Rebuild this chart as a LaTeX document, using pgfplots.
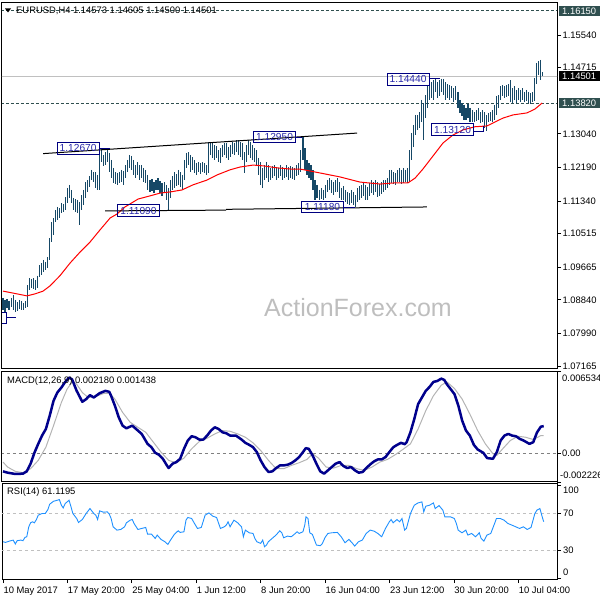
\documentclass[border=0pt]{standalone}
\usepackage{pgfplots}
\usepackage{pgfplotstable}
\pgfplotsset{compat=1.18}
\usepackage{fontspec}
\setmainfont{Liberation Sans}
\definecolor{barcol}{RGB}{22,72,102}
\definecolor{macdcol}{RGB}{0,0,140}
\definecolor{sigcol}{RGB}{180,180,180}
\definecolor{rsicol}{RGB}{30,144,255}
\definecolor{lvl}{RGB}{192,192,192}
\definecolor{dsg}{RGB}{47,79,79}
\definecolor{lblbox}{RGB}{0,0,128}
\definecolor{lbltxt}{RGB}{40,40,170}
\definecolor{wm}{RGB}{190,190,190}
\newcommand{\tf}{\fontsize{9.4}{11}\selectfont}
\newcommand{\lf}{\fontsize{10.2}{12}\selectfont}
\begin{document}
\pgfplotstableread{
i h l
0 1.0889 1.0858
1 1.0884 1.0853
2 1.0886 1.0863
3 1.0881 1.0858
4 1.0889 1.0866
5 1.0896 1.0858
6 1.0884 1.0853
7 1.0878 1.0856
8 1.0884 1.0861
9 1.0881 1.0858
10 1.0876 1.0858
11 1.0881 1.0863
12 1.0921 1.0866
13 1.0939 1.0909
14 1.0937 1.0914
15 1.0939 1.0911
16 1.0934 1.0909
17 1.0945 1.0914
18 1.0972 1.0942
19 1.0977 1.0947
20 1.0985 1.0954
21 1.0980 1.0959
22 1.0992 1.0965
23 1.1040 1.0985
24 1.1081 1.1030
25 1.1091 1.1048
26 1.1111 1.1081
27 1.1119 1.1086
28 1.1116 1.1091
29 1.1129 1.1104
30 1.1126 1.1106
31 1.1144 1.1111
32 1.1167 1.1129
33 1.1175 1.1142
34 1.1162 1.1129
35 1.1142 1.1111
36 1.1139 1.1106
37 1.1137 1.1104
38 1.1132 1.1073
39 1.1149 1.1111
40 1.1162 1.1124
41 1.1182 1.1142
42 1.1187 1.1157
43 1.1197 1.1170
44 1.1213 1.1187
45 1.1207 1.1182
46 1.1207 1.1167
47 1.1200 1.1162
48 1.1267 1.1162
49 1.1266 1.1233
50 1.1251 1.1223
51 1.1258 1.1225
52 1.1263 1.1233
53 1.1256 1.1207
54 1.1238 1.1192
55 1.1218 1.1180
56 1.1207 1.1177
57 1.1205 1.1175
58 1.1207 1.1180
59 1.1213 1.1182
60 1.1210 1.1175
61 1.1225 1.1192
62 1.1238 1.1207
63 1.1251 1.1218
64 1.1248 1.1213
65 1.1238 1.1200
66 1.1225 1.1192
67 1.1233 1.1200
68 1.1225 1.1187
69 1.1225 1.1192
70 1.1218 1.1182
71 1.1213 1.1180
72 1.1200 1.1162
73 1.1187 1.1157
74 1.1190 1.1159
75 1.1182 1.1154
76 1.1187 1.1162
77 1.1192 1.1162
78 1.1185 1.1154
79 1.1180 1.1147
80 1.1182 1.1157
81 1.1175 1.1137
82 1.1167 1.1109
83 1.1187 1.1142
84 1.1197 1.1162
85 1.1207 1.1167
86 1.1202 1.1172
87 1.1213 1.1175
88 1.1207 1.1170
89 1.1200 1.1162
90 1.1238 1.1187
91 1.1256 1.1218
92 1.1258 1.1225
93 1.1251 1.1207
94 1.1245 1.1213
95 1.1238 1.1205
96 1.1230 1.1200
97 1.1233 1.1207
98 1.1230 1.1202
99 1.1233 1.1207
100 1.1230 1.1205
101 1.1225 1.1200
102 1.1283 1.1205
103 1.1283 1.1251
104 1.1281 1.1243
105 1.1276 1.1238
106 1.1273 1.1243
107 1.1263 1.1233
108 1.1268 1.1230
109 1.1276 1.1245
110 1.1281 1.1251
111 1.1281 1.1243
112 1.1271 1.1238
113 1.1276 1.1245
114 1.1283 1.1253
115 1.1281 1.1251
116 1.1288 1.1258
117 1.1288 1.1251
118 1.1283 1.1245
119 1.1281 1.1238
120 1.1258 1.1205
121 1.1276 1.1233
122 1.1288 1.1251
123 1.1283 1.1243
124 1.1276 1.1238
125 1.1268 1.1233
126 1.1263 1.1225
127 1.1243 1.1200
128 1.1233 1.1175
129 1.1218 1.1167
130 1.1225 1.1187
131 1.1233 1.1192
132 1.1225 1.1182
133 1.1218 1.1187
134 1.1223 1.1192
135 1.1225 1.1197
136 1.1220 1.1187
137 1.1218 1.1192
138 1.1225 1.1197
139 1.1220 1.1187
140 1.1218 1.1192
141 1.1225 1.1195
142 1.1220 1.1187
143 1.1223 1.1192
144 1.1220 1.1190
145 1.1218 1.1187
146 1.1225 1.1197
147 1.1230 1.1200
148 1.1263 1.1207
149 1.1295 1.1238
150 1.1268 1.1213
151 1.1238 1.1200
152 1.1230 1.1192
153 1.1225 1.1187
154 1.1213 1.1162
155 1.1187 1.1137
156 1.1175 1.1142
157 1.1162 1.1137
158 1.1167 1.1139
159 1.1162 1.1137
160 1.1175 1.1142
161 1.1187 1.1157
162 1.1192 1.1162
163 1.1187 1.1154
164 1.1182 1.1149
165 1.1187 1.1157
166 1.1192 1.1157
167 1.1182 1.1142
168 1.1167 1.1137
169 1.1172 1.1137
170 1.1162 1.1132
171 1.1157 1.1126
172 1.1154 1.1124
173 1.1162 1.1129
174 1.1157 1.1124
175 1.1149 1.1118
176 1.1167 1.1132
177 1.1172 1.1137
178 1.1175 1.1142
179 1.1180 1.1147
180 1.1175 1.1137
181 1.1170 1.1137
182 1.1180 1.1147
183 1.1187 1.1154
184 1.1182 1.1149
185 1.1187 1.1157
186 1.1182 1.1144
187 1.1177 1.1147
188 1.1182 1.1152
189 1.1187 1.1157
190 1.1187 1.1162
191 1.1192 1.1167
192 1.1213 1.1175
193 1.1213 1.1180
194 1.1207 1.1177
195 1.1205 1.1175
196 1.1213 1.1182
197 1.1218 1.1182
198 1.1213 1.1177
199 1.1218 1.1180
200 1.1213 1.1182
201 1.1218 1.1180
202 1.1263 1.1182
203 1.1306 1.1238
204 1.1327 1.1271
205 1.1352 1.1301
206 1.1352 1.1314
207 1.1359 1.1319
208 1.1390 1.1334
209 1.1382 1.1288
210 1.1402 1.1344
211 1.1428 1.1370
212 1.1435 1.1390
213 1.1435 1.1395
214 1.1440 1.1390
215 1.1444 1.1410
216 1.1435 1.1395
217 1.1440 1.1400
218 1.1444 1.1410
219 1.1443 1.1402
220 1.1435 1.1390
221 1.1430 1.1395
222 1.1428 1.1390
223 1.1425 1.1395
224 1.1420 1.1385
225 1.1425 1.1390
226 1.1410 1.1370
227 1.1390 1.1357
228 1.1382 1.1349
229 1.1377 1.1339
230 1.1370 1.1339
231 1.1380 1.1344
232 1.1370 1.1334
233 1.1364 1.1334
234 1.1359 1.1334
235 1.1364 1.1337
236 1.1370 1.1339
237 1.1359 1.1332
238 1.1364 1.1334
239 1.1359 1.1319
240 1.1352 1.1312
241 1.1357 1.1334
242 1.1359 1.1337
243 1.1364 1.1334
244 1.1377 1.1339
245 1.1400 1.1352
246 1.1402 1.1370
247 1.1425 1.1390
248 1.1428 1.1400
249 1.1425 1.1395
250 1.1428 1.1397
251 1.1430 1.1400
252 1.1440 1.1385
253 1.1420 1.1382
254 1.1425 1.1390
255 1.1415 1.1382
256 1.1420 1.1390
257 1.1415 1.1385
258 1.1420 1.1390
259 1.1410 1.1385
260 1.1415 1.1387
261 1.1410 1.1382
262 1.1407 1.1380
263 1.1410 1.1385
264 1.1445 1.1387
265 1.1483 1.1430
266 1.1488 1.1453
267 1.1491 1.1440
268 1.14605 1.14500
}\bars
\begin{tikzpicture}
\useasboundingbox (0,0) rectangle (600pt,600pt);
\node[text=wm, font=\fontsize{25}{25}\selectfont, anchor=center] at (358pt,292pt) {ActionForex.com};

% ---------------- main price panel ----------------
\begin{axis}[
  at={(2pt,231pt)}, anchor=south west, scale only axis,
  width=555pt, height=367pt,
  xmin=-0.5, xmax=275.2, ymin=1.07089, ymax=1.16377,
  axis line style={line width=1pt, black},
  xtick=\empty,
  ytick={1.15540,1.14715,1.13040,1.12190,1.11340,1.10515,1.09665,1.08840,1.07990,1.07165},
  yticklabels={1.15540,1.14715,1.13040,1.12190,1.11340,1.10515,1.09665,1.08840,1.07990,1.07165},
  ytick pos=right, yticklabel pos=right,
  tick align=outside, major tick length=4pt,
  tick style={line width=0.8pt, black},
  yticklabel style={font=\tf, text=black, anchor=west, xshift=-2pt},
  scaled y ticks=false,
  clip mode=individual,
]
\addplot[dsg, line width=1pt, dash pattern=on 3pt off 2pt] coordinates {(-1,1.16150) (276,1.16150)};
\addplot[dsg, line width=1pt, dash pattern=on 3pt off 2pt] coordinates {(-1,1.13820) (276,1.13820)};
\addplot[lvl, line width=1pt] coordinates {(-1,1.14501) (276,1.14501)};
\addplot[draw=none, no marks,
  error bars/.cd, y dir=minus, y explicit, error mark=none,
  error bar style={draw=barcol, solid, line width=1.1pt}]
  table[x=i, y=h, y error minus expr=\thisrow{h}-\thisrow{l}] {\bars};
\addplot[red, line width=1pt] coordinates {
(0,1.0906) (5.0,1.0901) (11.9,1.0894) (15.9,1.0899) (19.9,1.0906) (23.3,1.0919)
(28.3,1.0945) (33.3,1.0977) (38.3,1.1005) (43.2,1.1030) (48.2,1.1061) (53.2,1.1091)
(56.6,1.1101) (60.6,1.1119) (67.1,1.1139) (73.0,1.1147) (78.0,1.1154) (83.0,1.1157)
(88.9,1.1162) (94.4,1.1175) (101.3,1.1187) (106.3,1.1200) (112.8,1.1213) (117.7,1.1220)
(124.2,1.1225) (129.2,1.1223) (136.1,1.1218) (142.6,1.1215) (147.5,1.1215) (157.5,1.1205)
(167.4,1.1195) (177.3,1.1182) (187.3,1.1177) (194.7,1.1180) (201.2,1.1180) (204.7,1.1192)
(208.6,1.1215) (213.6,1.1248) (218.6,1.1281) (223.5,1.1301) (228.5,1.1314) (234.5,1.1322)
(240.4,1.1324) (244.4,1.1334) (248.4,1.1344) (253.4,1.1352) (260.3,1.1357) (264.3,1.1367)
(267.8,1.1382)};
% trend lines
\addplot[black, line width=1pt] coordinates {(19.9,1.1254) (175.9,1.1306)};
\addplot[black, line width=1pt] coordinates {(50.7,1.1109) (110.8,1.1111)};
\addplot[black, line width=1pt] coordinates {(110.8,1.1113) (210.6,1.1119)};
% price label connectors
\addplot[lblbox, line width=1pt] coordinates {(47.7,1.1268) (53.2,1.1268)};
\addplot[lblbox, line width=1pt] coordinates {(145.6,1.1296) (148.6,1.1296)};
\addplot[lblbox, line width=1pt] coordinates {(168.9,1.1118) (174.9,1.1118)};
\addplot[lblbox, line width=1pt] coordinates {(211.6,1.1443) (217.1,1.1443)};
\addplot[lblbox, line width=1pt] coordinates {(233.5,1.1311) (238.5,1.1311) (238.5,1.1324)};
\addplot[lblbox, line width=1pt] coordinates {(1.5,1.0840) (6.5,1.0840)};
\addplot[lblbox, line width=1pt] coordinates {(-0.5,1.0853) (1.5,1.0853) (1.5,1.0825) (-0.5,1.0825)};
\tikzset{pl/.style={draw=lblbox, text=lbltxt, font=\lf, line width=1pt, inner xsep=2pt, inner ysep=2.3pt, text height=7.3pt, text depth=0pt, minimum width=42pt}}
\node[pl] at (axis cs:37.3,1.1268) {1.12670};
\node[pl] at (axis cs:67.3,1.1110) {1.11090};
\node[pl] at (axis cs:134.9,1.1296) {1.12950};
\node[pl] at (axis cs:158.7,1.1119) {1.11180};
\node[pl] at (axis cs:201.2,1.1442) {1.14440};
\node[pl] at (axis cs:223.3,1.1314) {1.13120};
\tikzset{hl/.style={anchor=west, font=\tf, text=white, inner xsep=1.5pt, inner ysep=1pt, text height=7pt, text depth=0.5pt, minimum width=41pt, xshift=1.5pt}}
\node[hl, fill=dsg] at (axis cs:275.2,1.16150) {1.16150};
\node[hl, fill=black] at (axis cs:275.2,1.14501) {1.14501};
\node[hl, fill=dsg] at (axis cs:275.2,1.13820) {1.13820};
\end{axis}

% ---------------- MACD panel ----------------
\begin{axis}[
  at={(2pt,118pt)}, anchor=south west, scale only axis,
  width=555pt, height=111pt,
  xmin=-0.5, xmax=275.2, ymin=-0.002226, ymax=0.006534,
  axis line style={line width=1pt, black},
  xtick=\empty,
  ytick={-0.002226,0,0.006534}, yticklabels={,,},
  ytick pos=right, tick align=outside, major tick length=4pt,
  tick style={line width=0.8pt, black},
  scaled y ticks=false,
  clip mode=individual,
]
\addplot[gray, line width=0.8pt, dash pattern=on 3pt off 3pt] coordinates {(-1,0) (276,0)};
\addplot[sigcol, line width=1pt] coordinates {
(0,-0.000654) (2.3,-0.001046) (6.1,-0.001385) (9.9,-0.00149) (13.7,-0.001176) (17.5,-0.000523)
(21.3,0.000523) (25.1,0.002222) (29.0,0.004052) (31.8,0.005097) (34.7,0.005751) (36.6,0.005489)
(39.4,0.004836) (42.3,0.004444) (46.1,0.004522) (49.9,0.004757) (52.8,0.004784) (55.6,0.004313)
(59.4,0.003268) (63.2,0.002483) (67.0,0.002091) (70.9,0.001699) (74.7,0.000915) (78.5,0.000131)
(82.3,-0.000523) (86.1,-0.000706) (89.9,-0.00034) (93.7,0.000392) (97.5,0.000967) (101.4,0.001228)
(105.2,0.001568) (109.0,0.00183) (112.8,0.001778) (116.6,0.001568) (120.4,0.001307) (124.2,0.000863)
(128.0,0.000261) (131.9,-0.000523) (135.7,-0.001176) (139.5,-0.001176) (143.3,-0.000915) (147.1,-0.000706)
(151.0,-0.000444) (153.8,0) (156.7,-0.00034) (160.5,-0.001046) (164.3,-0.001124) (168.1,-0.000915)
(171.9,-0.000915) (175.7,-0.001176) (179.5,-0.001307) (183.3,-0.001046) (187.2,-0.000654) (191.0,-0.000444)
(194.8,-0.000078) (198.6,0.00034) (202.4,0.000784) (206.2,0.00196) (210.0,0.003398) (213.8,0.004575)
(217.7,0.005411) (220.5,0.005672) (224.3,0.005149) (228.1,0.004313) (231.9,0.003137) (235.8,0.00183)
(239.6,0.000784) (243.4,0) (245.3,-0.000131) (248.2,0.000392) (252.0,0.001046) (255.8,0.001385)
(259.6,0.001307) (263.4,0.001124) (267.2,0.001438) (268.6,0.001438)};
\addplot[macdcol, line width=2.5pt, line join=round] coordinates {
(0,-0.001385) (2.3,-0.00149) (6.1,-0.001594) (9.9,-0.001568) (11.8,-0.001385) (13.7,-0.000784)
(15.6,0.000078) (17.5,0.000784) (19.4,0.001438) (21.3,0.00196) (23.2,0.003006) (25.1,0.004182)
(27.0,0.004836) (29.0,0.005228) (30.9,0.005672) (32.8,0.006012) (34.3,0.005882) (36.6,0.004967)
(39.4,0.004104) (41.3,0.004313) (43.2,0.004627) (45.1,0.004444) (48.0,0.004784) (50.9,0.004967)
(52.8,0.004888) (53.7,0.004575) (55.6,0.00379) (57.5,0.002875) (59.4,0.002222) (61.3,0.002013)
(64.2,0.002222) (66.1,0.00196) (68.9,0.001568) (71.8,0.000784) (73.7,0.000523) (75.6,0.000078)
(77.5,-0.000078) (79.4,-0.000392) (81.4,-0.000915) (82.3,-0.001124) (84.2,-0.000784) (86.1,-0.000654)
(88.0,-0.000392) (89.9,0.000392) (91.8,0.001046) (93.7,0.001385) (95.6,0.001307) (97.5,0.001124)
(99.5,0.001124) (101.4,0.001438) (103.3,0.00183) (105.2,0.002091) (107.1,0.00196) (109.0,0.001699)
(110.9,0.001621) (112.8,0.001438) (115.7,0.001438) (118.5,0.001124) (120.4,0.000863) (122.3,0.000706)
(124.2,0.000523) (126.1,0.000131) (128.0,-0.000523) (129.9,-0.001046) (131.9,-0.001438) (133.8,-0.001385)
(135.7,-0.001124) (137.6,-0.000915) (139.5,-0.000915) (141.4,-0.000863) (143.3,-0.000732) (145.2,-0.000523)
(147.1,-0.000261) (149.0,0.000131) (150.4,0.000444) (151.9,0.000392) (153.8,-0.000131) (155.7,-0.000784)
(157.6,-0.001385) (159.5,-0.001568) (161.4,-0.001307) (163.3,-0.001046) (165.2,-0.000784) (167.2,-0.000654)
(169.1,-0.000967) (171.0,-0.001124) (172.9,-0.001046) (174.8,-0.001307) (176.7,-0.00149) (178.6,-0.001438)
(180.5,-0.001124) (182.4,-0.000836) (184.3,-0.000601) (186.2,-0.000444) (188.1,-0.000444) (190.0,-0.000261)
(191.9,0.000131) (193.9,0.000523) (195.8,0.000706) (197.7,0.000863) (199.6,0.000758) (200.5,0.000915)
(202.4,0.001699) (204.3,0.002745) (206.2,0.003921) (208.1,0.004444) (210.0,0.004967) (211.9,0.00528)
(213.8,0.005672) (215.8,0.005751) (217.7,0.005934) (219.2,0.005829) (220.5,0.005489) (222.4,0.005097)
(224.3,0.004705) (226.2,0.00379) (228.1,0.002614) (230.0,0.00183) (231.9,0.001438) (233.9,0.000706)
(235.8,0.00034) (238.6,0.000078) (240.5,-0.00034) (243.4,-0.000392) (245.3,0.000131) (247.2,0.001046)
(249.1,0.001438) (251.0,0.001568) (252.9,0.001438) (254.8,0.001385) (256.7,0.001176) (258.6,0.001046)
(261.5,0.000784) (263.4,0.000915) (265.3,0.001699) (267.2,0.002143) (268.6,0.00218)};
\end{axis}

% ---------------- RSI panel ----------------
\begin{axis}[
  at={(2pt,21pt)}, anchor=south west, scale only axis,
  width=555pt, height=95pt,
  xmin=-0.5, xmax=275.2, ymin=-1, ymax=102,
  axis line style={line width=1pt, black},
  xtick={0,32,64,96,128,160,192,224,256},
  xticklabels={10 May 2017,17 May 20:00,25 May 04:00,1 Jun 12:00,8 Jun 20:00,16 Jun 04:00,23 Jun 12:00,30 Jun 20:00,10 Jul 04:00},
  xtick pos=bottom,
  xticklabel style={font=\tf, text=black, anchor=north west, xshift=-3pt, yshift=0pt},
  ytick={0,30,70,100}, yticklabels={,,,},
  ytick pos=right, tick align=outside, major tick length=4pt,
  tick style={line width=0.8pt, black},
  clip mode=individual,
]
\addplot[lvl, line width=1pt, dash pattern=on 3pt off 3pt] coordinates {(-1,70) (276,70)};
\addplot[lvl, line width=1pt, dash pattern=on 3pt off 3pt] coordinates {(-1,30) (276,30)};
\addplot[rsicol, line width=0.9pt] coordinates {
(0,39.4) (1.3,38.7) (3.2,40.1) (5.1,41.2) (6.1,36.9) (7.0,40.5) (8.9,41.2) (9.9,40.5) (10.9,44.1)
(11.8,44.8) (12.8,55.6) (13.7,59.9) (14.7,61) (15.6,59.9) (16.6,63.5) (17.5,68.2) (19.4,70) (21,70)
(22.3,74.3) (23.2,80.1) (25.1,83.3) (27.0,84.4) (28.0,85.1) (29.0,79) (29.9,76.1) (30.9,80.8)
(32.8,84.4) (33.7,77.9) (34.7,70) (36.6,64.6) (37.5,60.3) (39.4,63.5) (41.3,70) (43.2,75.4)
(45.1,70) (46.1,68.2) (47.0,63.5) (48.0,72.9) (49.9,71.4) (51.8,71.8) (52.8,69.3) (53.7,64.6)
(54.7,55.6) (56.6,52) (58.5,52.7) (60.4,55.6) (61.3,59.9) (63.2,62.8) (64.2,63.5) (65.1,59.2)
(67.0,52.7) (68.9,53.8) (70.9,54.9) (71.8,47.7) (73.7,47.7) (75.6,43) (76.6,46.6) (78.5,41.9)
(80.4,39.4) (81.9,36.5) (83.2,41.2) (85.1,47.3) (87.0,51.3) (88.0,49.5) (89.9,50.2) (90.9,62.8)
(91.8,65.7) (93.7,64.6) (95.6,57.4) (96.6,53.8) (98.5,54.9) (100.4,68.2) (102.3,70.7) (104.2,67.1)
(106.1,65.7) (108.0,53.8) (109.9,55.6) (110.9,57.4) (111.8,61) (112.8,55.6) (114.7,62.8) (116.6,59.9)
(118.5,55.6) (119.4,44.8) (120.4,52) (122.3,49.1) (124.2,48.4) (125.1,43) (126.1,39.4) (128.0,37.6)
(129.0,41.2) (129.9,34) (130.9,35.8) (131.8,39.4) (133.7,43) (135.6,46.6) (137.5,51.3) (138.5,49.1)
(139.4,43.7) (141.3,45.5) (143.2,44.8) (145.2,48.4) (146.1,50.2) (147.1,48.4) (149.0,50.2) (149.9,57.4)
(150.5,66.4) (151.5,64.6) (152.4,49.1) (153.7,47.3) (155.7,35.8) (157.6,35.1) (158.5,36.9) (160.0,44.1)
(161.4,48.4) (163.3,49.1) (166.1,49.5) (168.0,44.8) (169.9,38.3) (171.8,41.9) (173.4,38.3) (174.7,34.7)
(176.6,39.4) (178.5,41.2) (180.4,48.4) (182.4,52) (184.3,50.9) (186.2,48.4) (188.1,44.8) (190.0,53.8)
(191.9,61) (192.8,63.5) (193.8,59.9) (195.7,63.5) (197.0,61) (198.2,64.6) (199.5,52) (200.4,53.8)
(202.4,70) (204.3,79) (206.2,81.5) (208.1,82.6) (209.0,71.8) (210.0,77.9) (211.9,79) (213.8,81.5)
(214.7,75.4) (216.6,78.6) (218.5,73.6) (219.5,66.4) (220.4,66.4) (222.3,66.4) (224.2,64.6) (225.2,59.2)
(226.1,52) (228.0,49.1) (229.9,52) (230.9,46.6) (232.8,48.4) (234.7,44.8) (236.6,49.1) (237.5,43)
(238.9,40.1) (240.4,46.6) (242.3,48.4) (244.2,59.2) (245.1,64.6) (247.0,64.6) (248.9,62.8) (250.8,59.2)
(252.8,57.4) (254.7,55.6) (256.6,53.8) (258.5,55.6) (260.4,52.7) (262.3,54.9) (264.2,70) (265.2,73.6)
(266.7,75.4) (268.0,65.3) (268.6,61.1)};
\end{axis}

% ---------------- texts ----------------
\fill (5pt,591.5pt) -- (11pt,591.5pt) -- (8pt,587.5pt) -- cycle;
\node[anchor=west, font=\tf, inner sep=0pt] at (16pt,589pt) {EURUSD,H4 1.14573 1.14605 1.14500 1.14501};
\node[anchor=west, font=\tf, inner sep=0pt] at (7pt,219pt) {MACD(12,26,9) 0.002180 0.001438};
\node[anchor=west, font=\tf, inner sep=0pt] at (7pt,108pt) {RSI(14) 61.1195};
\node[anchor=west, font=\tf, inner sep=0pt] at (562pt,222pt) {0.006534};
\node[anchor=west, font=\tf, inner sep=0pt] at (562pt,147pt) {0.00};
\node[anchor=west, font=\tf, inner sep=0pt] at (560pt,125pt) {-0.002226};
\node[anchor=west, font=\tf, inner sep=0pt] at (563pt,110pt) {100};
\node[anchor=west, font=\tf, inner sep=0pt] at (563pt,87pt) {70};
\node[anchor=west, font=\tf, inner sep=0pt] at (563pt,50pt) {30};
\node[anchor=west, font=\tf, inner sep=0pt] at (563pt,28pt) {0};
\end{tikzpicture}
\end{document}
